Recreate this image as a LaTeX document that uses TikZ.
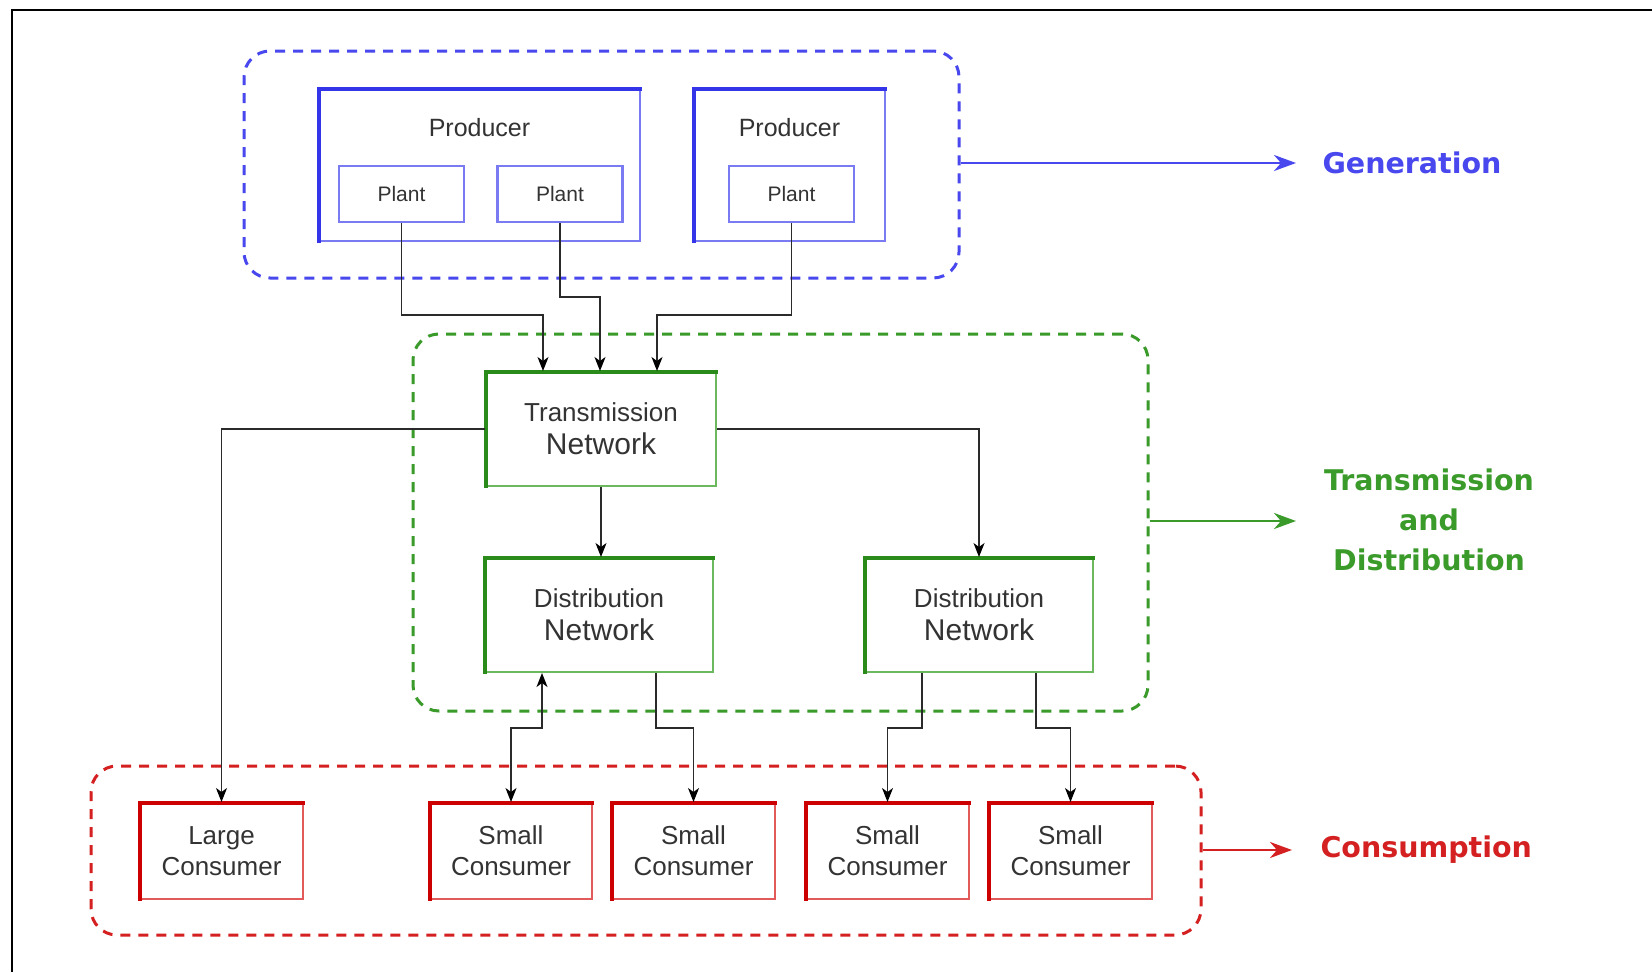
\documentclass[tikz,border=0pt]{standalone}
\usepackage{fontspec}
\setmainfont{Liberation Sans}
\newfontfamily\tagfont{DejaVu Sans}
\usetikzlibrary{arrows.meta}

\definecolor{txt}{HTML}{333333}
\definecolor{blueD}{HTML}{3434E8}
\definecolor{blueL}{HTML}{7A7AF2}
\definecolor{blueG}{HTML}{4848EE}
\definecolor{greenD}{HTML}{2A8A1A}
\definecolor{greenL}{HTML}{6CB85E}
\definecolor{greenG}{HTML}{3A9A2A}
\definecolor{redD}{HTML}{CC0000}
\definecolor{redL}{HTML}{E25A5A}
\definecolor{redG}{HTML}{D42020}
\definecolor{wire}{HTML}{2A2A2A}

\tikzset{
  group/.style={draw=#1, line width=3pt, dash pattern=on 10pt off 8pt,
    rounded corners=26pt, rectangle, inner sep=0pt},
  unit/.style={rectangle, draw=#1, line width=2pt, inner sep=0pt,
    text=txt, align=center},
  plantbox/.style={rectangle, draw=blueL, line width=2.2pt, inner sep=0pt,
    text=txt, font=\fontsize{21pt}{25pt}\selectfont,
    minimum width=125pt, minimum height=56pt},
  heavyedge/.style={line width=3.5pt, #1},
  conn/.style={draw=wire, line width=1.4pt},
  tip/.style={-{Stealth[length=14pt,width=11pt,inset=4pt,black]}},
  twotip/.style={{Stealth[length=14pt,width=11pt,inset=4pt,black]}-{Stealth[length=14pt,width=11pt,inset=4pt,black]}},
  bigtip/.style={line width=2.6pt, -{Stealth[length=22pt,width=16pt,inset=7pt]}},
  tag/.style={font=\tagfont\bfseries\fontsize{28.5pt}{40pt}\selectfont, align=center},
  boxtext/.style={font=\fontsize{26pt}{31pt}\selectfont},
  nettext/.style={font=\fontsize{26pt}{33pt}\selectfont},
}

\begin{document}
\begin{tikzpicture}[x=1pt,y=-1pt]
\useasboundingbox (0,0) rectangle (1652,972);
\fill[white] (0,0) rectangle (1652,972);
\draw[black, line width=2.2pt] (12,972) -- (12,10) -- (1652,10);

% layer groups
\node[group=blueG, minimum width=715pt, minimum height=227pt] (GEN) at (601.5,164.5) {};
\node[group=greenG, minimum width=735pt, minimum height=377pt] (TD) at (780.5,522.5) {};
\node[group=redG, minimum width=1110pt, minimum height=169pt] (CON) at (646,850.5) {};

% producers and plants
\node[unit=blueL, minimum width=321pt, minimum height=152pt,
  label={[text=txt, font=\fontsize{25pt}{30pt}\selectfont, anchor=center, yshift=-40pt]north:Producer}]
  (PR1) at (479.5,165) {};
\node[unit=blueL, minimum width=191pt, minimum height=152pt,
  label={[text=txt, font=\fontsize{25pt}{30pt}\selectfont, anchor=center, yshift=-40pt]north:Producer}]
  (PR2) at (789.5,165) {};
\node[plantbox] (P1) at (401.5,194) {Plant};
\node[plantbox] (P2) at (560,194) {Plant};
\node[plantbox] (P3) at (791.5,194) {Plant};

% networks
\node[unit=greenL, nettext, minimum width=230pt, minimum height=114pt] (TN) at (601,429)
  {Transmission\\{\fontsize{30pt}{33pt}\selectfont Network}};
\node[unit=greenL, nettext, minimum width=228pt, minimum height=114pt] (D1) at (599,615)
  {Distribution\\{\fontsize{30pt}{33pt}\selectfont Network}};
\node[unit=greenL, nettext, minimum width=228pt, minimum height=114pt] (D2) at (979,615)
  {Distribution\\{\fontsize{30pt}{33pt}\selectfont Network}};

% consumers
\node[unit=redL, boxtext, minimum width=163pt, minimum height=96pt] (LC) at (221.5,851) {Large\\Consumer};
\node[unit=redL, boxtext, minimum width=162pt, minimum height=96pt] (S1) at (511,851) {Small\\Consumer};
\node[unit=redL, boxtext, minimum width=163pt, minimum height=96pt] (S2) at (693.5,851) {Small\\Consumer};
\node[unit=redL, boxtext, minimum width=163pt, minimum height=96pt] (S3) at (887.5,851) {Small\\Consumer};
\node[unit=redL, boxtext, minimum width=163pt, minimum height=96pt] (S4) at (1070.5,851) {Small\\Consumer};

% darker top and left edges of the solid boxes
\foreach \n/\c in {PR1/blueD, PR2/blueD, TN/greenD, D1/greenD, D2/greenD,
                   LC/redD, S1/redD, S2/redD, S3/redD, S4/redD}
  \draw[heavyedge=\c] ([xshift=0.75pt,yshift=-1pt]\n.south west)
        -- ([xshift=0.75pt,yshift=-0.75pt]\n.north west)
        -- ([xshift=1pt,yshift=-0.75pt]\n.north east);

% plants feed the transmission network
\draw[conn, tip] (P1.south) -- (P1.south |- 0,315) -| ([xshift=-58pt]TN.north);
\draw[conn, tip] (P2.south) -- (P2.south |- 0,297) -| ([xshift=-1pt]TN.north);
\draw[conn, tip] (P3.south) -- (P3.south |- 0,315) -| ([xshift=56pt]TN.north);

% transmission network outputs
\draw[conn, tip] (TN.west) -| (LC.north);
\draw[conn, tip] (TN.east) -| (D2.north);
\draw[conn, tip] (TN.south) -- (TN.south |- D1.north);

% distribution to small consumers
\draw[conn, twotip]
  ([xshift=-57pt]D1.south) -- ([xshift=-57pt]D1.south |- 0,728) -| (S1.north);
\draw[conn, tip] ([xshift=57pt]D1.south) -- ([xshift=57pt]D1.south |- 0,728) -| (S2.north);
\draw[conn, tip] ([xshift=-57pt]D2.south) -- ([xshift=-57pt]D2.south |- 0,728) -| (S3.north);
\draw[conn, tip] ([xshift=57pt]D2.south) -- ([xshift=57pt]D2.south |- 0,728) -| (S4.north);

% layer captions
\node[tag, text=blueG, anchor=west] (TGEN) at (1319,163) {Generation};
\node[tag, text=greenG] (TTD) at (1429,520) {Transmission\\and\\Distribution};
\node[tag, text=redG, anchor=west] (TCON) at (1317,850) {Consumption};

\coordinate (genEnd) at (1296,163);
\coordinate (tdEnd) at (1296,521);
\coordinate (conEnd) at (1292,850);
\draw[bigtip, blueG] (GEN.east |- genEnd) -- (genEnd);
\draw[bigtip, greenG] (TD.east |- tdEnd) -- (tdEnd);
\draw[bigtip, redG] (CON.east |- conEnd) -- (conEnd);
\end{tikzpicture}
\end{document}
